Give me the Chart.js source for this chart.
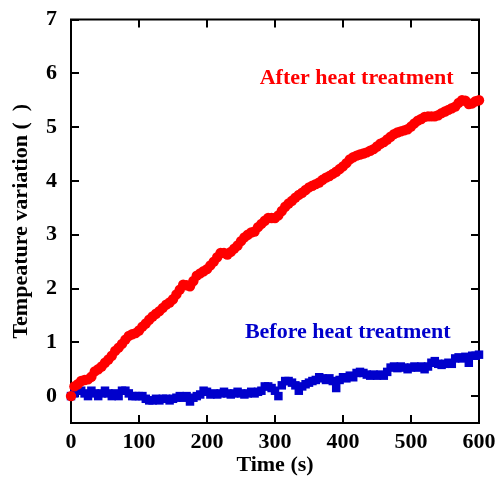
<!DOCTYPE html>
<html>
<head>
<meta charset="utf-8">
<script src="https://cdn.jsdelivr.net/npm/chart.js@4"></script>
<style>
  html, body { margin:0; padding:0; background:#fff; }
  #wrap { width:496px; height:480px; }
</style>
</head>
<body>
<div id="wrap"><canvas id="c" width="496" height="480"></canvas></div>
<script>
// ---------- data ----------
const times = [];
for (let t = 0; t <= 600; t += 5) times.push(t);

const afterVals = [
  0.00,0.18,0.22,0.28,0.30,0.31,0.36,0.46,0.50,0.55,0.62,0.68,0.75,0.84,0.90,0.97,1.05,1.12,1.15,1.17,
  1.22,1.29,1.35,1.42,1.48,1.53,1.58,1.64,1.70,1.74,1.80,1.89,1.98,2.07,2.06,2.04,2.14,2.24,2.28,2.32,
  2.36,2.43,2.50,2.58,2.66,2.66,2.63,2.68,2.74,2.80,2.88,2.95,3.00,3.04,3.06,3.14,3.20,3.26,3.31,3.31,
  3.31,3.36,3.44,3.52,3.58,3.63,3.69,3.74,3.78,3.83,3.88,3.91,3.94,3.97,4.02,4.06,4.09,4.13,4.17,4.22,
  4.27,4.33,4.40,4.44,4.47,4.49,4.51,4.53,4.56,4.59,4.64,4.69,4.72,4.77,4.82,4.87,4.90,4.92,4.94,4.96,
  5.01,5.07,5.12,5.15,5.19,5.20,5.20,5.20,5.22,5.26,5.29,5.32,5.35,5.38,5.45,5.50,5.49,5.43,5.44,5.48,
  5.50
];
const beforeVals = [
  0.00,0.05,0.10,0.10,0.05,0.00,0.10,0.05,0.00,0.05,0.10,0.05,0.00,0.05,0.00,0.10,0.10,0.05,0.00,0.00,
  0.00,0.00,-0.05,-0.08,-0.08,-0.05,-0.08,-0.05,-0.05,-0.08,-0.05,-0.03,0.00,-0.03,0.00,-0.10,-0.03,0.00,0.03,0.10,
  0.08,0.03,0.05,0.03,0.05,0.08,0.05,0.03,0.05,0.08,0.05,0.03,0.05,0.08,0.05,0.08,0.10,0.18,0.18,0.15,
  0.10,0.00,0.20,0.28,0.28,0.25,0.20,0.10,0.18,0.22,0.25,0.28,0.30,0.35,0.33,0.30,0.33,0.28,0.15,0.30,
  0.35,0.33,0.38,0.35,0.43,0.45,0.43,0.40,0.38,0.40,0.38,0.40,0.38,0.45,0.53,0.55,0.52,0.55,0.53,0.50,
  0.53,0.55,0.53,0.55,0.50,0.55,0.62,0.65,0.60,0.58,0.60,0.62,0.60,0.70,0.72,0.70,0.73,0.62,0.75,0.75,
  0.77
];
const xTicks = [0,100,200,300,400,500,600];
const yTicks = [0,1,2,3,4,5,6,7];
const seriesNames = ['After heat treatment','Before heat treatment'];

// ---------- style ----------
const SERIF = '"Liberation Serif", "Times New Roman", serif';
const RED = '#ff0000', BLUE = '#0000cc';
Chart.defaults.font.family = SERIF;
Chart.defaults.font.weight = 'bold';
Chart.defaults.color = '#000';

const pts = (vals)=> vals.map((v,i)=>({x:times[i], y:v}));

// frame + inward ticks on all four sides
const frame = {
  id:'frame',
  beforeDatasetsDraw(chart) {
    const {ctx, chartArea:a, scales:{x,y}} = chart;
    const L = 8;
    ctx.save();
    ctx.strokeStyle = '#000'; ctx.lineWidth = 2;
    ctx.strokeRect(a.left, a.top, a.right-a.left, a.bottom-a.top);
    ctx.beginPath();
    xTicks.forEach(v=>{
      const px = Math.round(x.getPixelForValue(v));
      ctx.moveTo(px, a.bottom); ctx.lineTo(px, a.bottom-L);
      ctx.moveTo(px, a.top);    ctx.lineTo(px, a.top+L);
    });
    yTicks.forEach(v=>{
      const py = Math.round(y.getPixelForValue(v));
      ctx.moveTo(a.left, py);  ctx.lineTo(a.left+L, py);
      ctx.moveTo(a.right, py); ctx.lineTo(a.right-L, py);
    });
    ctx.stroke();
    ctx.restore();
  }
};

// series labels inside the plot
const labels = {
  id:'labels',
  afterDraw(chart) {
    const {ctx, scales:{x,y}} = chart;
    ctx.save();
    ctx.font = 'bold 22px ' + SERIF;
    ctx.textAlign = 'center'; ctx.textBaseline = 'middle';
    ctx.fillStyle = RED;
    ctx.fillText(seriesNames[0], x.getPixelForValue(420), y.getPixelForValue(5.9));
    ctx.fillStyle = BLUE;
    ctx.fillText(seriesNames[1], x.getPixelForValue(407), y.getPixelForValue(1.18));
    ctx.restore();
  }
};

const noPad = (s)=> { s.paddingTop = s.paddingBottom = s.paddingLeft = s.paddingRight = 0; };

new Chart(document.getElementById('c'), {
  type:'scatter',
  data:{
    datasets:[
      {label:seriesNames[0], data:pts(afterVals), order:0,
       pointStyle:'circle', pointRadius:5.2, borderWidth:0,
       backgroundColor:RED, borderColor:RED},
      {label:seriesNames[1], data:pts(beforeVals), order:1,
       pointStyle:'rect', pointRadius:6, borderWidth:0,
       backgroundColor:BLUE, borderColor:BLUE}
    ]
  },
  options:{
    responsive:false, animation:false, clip:false,
    layout:{ padding:{ left:0, right:17, top:19.5, bottom:0 } },
    plugins:{ legend:{display:false}, tooltip:{enabled:false} },
    scales:{
      x:{
        type:'linear', min:0, max:600,
        afterBuildTicks: s=> { s.ticks = xTicks.map(v=>({value:v})); },
        afterFit: s=> { s.height = 57; noPad(s); },
        grid:{ display:false, drawTicks:false }, border:{ display:false },
        ticks:{ padding:6, font:{size:22, weight:'bold'}, color:'#000' },
        title:{ display:true, text:'Time (s)', font:{size:22, weight:'bold'}, color:'#000', padding:{top:0,bottom:1} }
      },
      y:{
        type:'linear', min:-0.5, max:7,
        afterBuildTicks: s=> { s.ticks = yTicks.map(v=>({value:v})); },
        afterFit: s=> { s.width = 71; noPad(s); },
        grid:{ display:false, drawTicks:false }, border:{ display:false },
        ticks:{ padding:14, font:{size:22, weight:'bold'}, color:'#000' },
        title:{ display:true, text:'Tempeature variation (  )', font:{size:22, weight:'bold'}, color:'#000', padding:{top:8,bottom:0} }
      }
    }
  },
  plugins:[frame, labels]
});
</script>
</body>
</html>
